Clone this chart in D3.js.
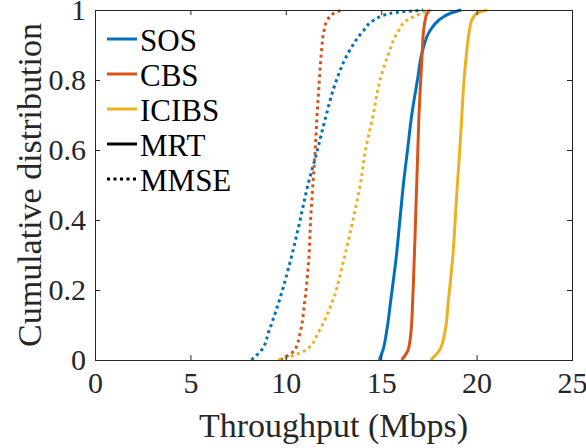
<!DOCTYPE html>
<html>
<head>
<meta charset="utf-8">
<script src="https://cdn.jsdelivr.net/npm/d3@7"></script>
<style>
  body { margin: 0; background: #fff; }
</style>
</head>
<body>
<div id="chart"></div>
<script>
// CDF levels shared by all curves
const levels = [0, 0.03, 0.08, 0.17, 0.3, 0.4, 0.5, 0.6, 0.7, 0.8, 0.88, 0.94, 0.97, 0.99, 1];

// throughput (Mbps) at each level
const sosMRT    = [14.9, 15.1, 15.28, 15.5, 15.8, 15.98, 16.16, 16.38, 16.6, 16.9, 17.15, 17.55, 18.0, 18.6, 19.2];
const cbsMRT    = [16.07, 16.42, 16.56, 16.65, 16.74, 16.8, 16.86, 16.92, 16.98, 17.07, 17.15, 17.22, 17.3, 17.4, 17.56];
const icibsMRT  = [17.6, 18.08, 18.34, 18.52, 18.76, 18.88, 18.99, 19.12, 19.23, 19.34, 19.48, 19.62, 19.74, 20.0, 20.56];
const sosMMSE   = [8.2, 8.75, 9.1, 9.66, 10.32, 10.75, 11.16, 11.66, 12.12, 12.66, 13.3, 14.05, 14.59, 15.46, 17.2];
const cbsMMSE   = [9.7, 10.48, 10.76, 11.0, 11.22, 11.3, 11.42, 11.54, 11.64, 11.76, 11.87, 12.0, 12.17, 12.5, 12.9];
const icibsMMSE = [9.6, 11.1, 11.72, 12.46, 13.1, 13.52, 13.9, 14.18, 14.58, 14.94, 15.42, 15.9, 16.33, 17.1, 17.6];

const xTicks = [0, 5, 10, 15, 20, 25];
const yTicks = [0, 0.2, 0.4, 0.6, 0.8, 1];

const schemes = ["SOS", "CBS", "ICIBS"];
const colors = ["#0072BD", "#D95319", "#EDB120"];

const series = [
  { scheme: "SOS", beam: "MRT", xs: sosMRT },
  { scheme: "CBS", beam: "MRT", xs: cbsMRT },
  { scheme: "ICIBS", beam: "MRT", xs: icibsMRT },
  { scheme: "SOS", beam: "MMSE", xs: sosMMSE },
  { scheme: "CBS", beam: "MMSE", xs: cbsMMSE },
  { scheme: "ICIBS", beam: "MMSE", xs: icibsMMSE }
];

const width = 586, height = 448;
const margin = { left: 95, right: 14, top: 10, bottom: 88 };
const font = "Liberation Serif";

const x = d3.scaleLinear().domain([0, 25]).range([margin.left, width - margin.right]);
const y = d3.scaleLinear().domain([0, 1]).range([height - margin.bottom, margin.top]);
const color = d3.scaleOrdinal().domain(schemes).range(colors);

const svg = d3.select("#chart").append("svg")
  .attr("width", width)
  .attr("height", height);

const line = d3.line().x(d => x(d[0])).y(d => y(d[1])).curve(d3.curveMonotoneY);

svg.selectAll("path.cdf")
  .data(series)
  .enter()
  .append("path")
  .attr("class", "cdf")
  .attr("d", d => line(d.xs.map((v, i) => [v, levels[i]])))
  .attr("fill", "none")
  .attr("stroke", d => color(d.scheme))
  .attr("stroke-width", 3)
  .attr("stroke-dasharray", d => d.beam === "MMSE" ? "3,3.5" : null);

// axes (box with inward ticks)
const tick = 5;
const axisColor = "#262626";
const tickFs = 30, labelFs = 34, legendFs = 31;

function styleAxis(g) {
  g.attr("font-family", font).attr("font-size", tickFs);
  g.select(".domain").attr("stroke", axisColor);
  g.selectAll("line").attr("stroke", axisColor);
  g.selectAll("text").attr("fill", axisColor);
}

svg.append("g")
  .attr("transform", `translate(0,${y(0)})`)
  .call(d3.axisBottom(x).tickValues(xTicks).tickSize(-tick).tickPadding(12).tickFormat(d3.format("d")))
  .call(styleAxis);

svg.append("g")
  .attr("transform", `translate(0,${y(1)})`)
  .call(d3.axisTop(x).tickValues(xTicks).tickSize(-tick).tickFormat(""))
  .call(styleAxis);

svg.append("g")
  .attr("transform", `translate(${x(0)},0)`)
  .call(d3.axisLeft(y).tickValues(yTicks).tickSize(-tick).tickPadding(9).tickFormat(d => d === 0 || d === 1 ? d3.format("d")(d) : d3.format(".1f")(d)))
  .call(styleAxis);

svg.append("g")
  .attr("transform", `translate(${x(25)},0)`)
  .call(d3.axisRight(y).tickValues(yTicks).tickSize(-tick).tickFormat(""))
  .call(styleAxis);

// axis labels
svg.append("text")
  .attr("x", (x(0) + x(25)) / 2)
  .attr("y", 437)
  .attr("text-anchor", "middle")
  .attr("font-family", font)
  .attr("font-size", labelFs)
  .attr("fill", axisColor)
  .text("Throughput (Mbps)");

svg.append("text")
  .attr("transform", `translate(41,${(y(0) + y(1)) / 2}) rotate(-90)`)
  .attr("text-anchor", "middle")
  .attr("font-family", font)
  .attr("font-size", labelFs)
  .attr("fill", axisColor)
  .text("Cumulative distribution");

// legend
const legendItems = [
  { label: "SOS", stroke: color("SOS"), dash: null },
  { label: "CBS", stroke: color("CBS"), dash: null },
  { label: "ICIBS", stroke: color("ICIBS"), dash: null },
  { label: "MRT", stroke: "#000", dash: null },
  { label: "MMSE", stroke: "#000", dash: "3,3.5" }
];

const legend = svg.append("g")
  .selectAll("g")
  .data(legendItems)
  .enter()
  .append("g")
  .attr("transform", (d, i) => `translate(0,${39 + i * 35})`);

legend.append("line")
  .attr("x1", 107).attr("x2", 137)
  .attr("stroke", d => d.stroke)
  .attr("stroke-width", 3)
  .attr("stroke-dasharray", d => d.dash);

legend.append("text")
  .attr("x", 140)
  .attr("dy", "0.38em")
  .attr("font-family", font)
  .attr("font-size", legendFs)
  .attr("fill", "#000")
  .text(d => d.label);
</script>
</body>
</html>
